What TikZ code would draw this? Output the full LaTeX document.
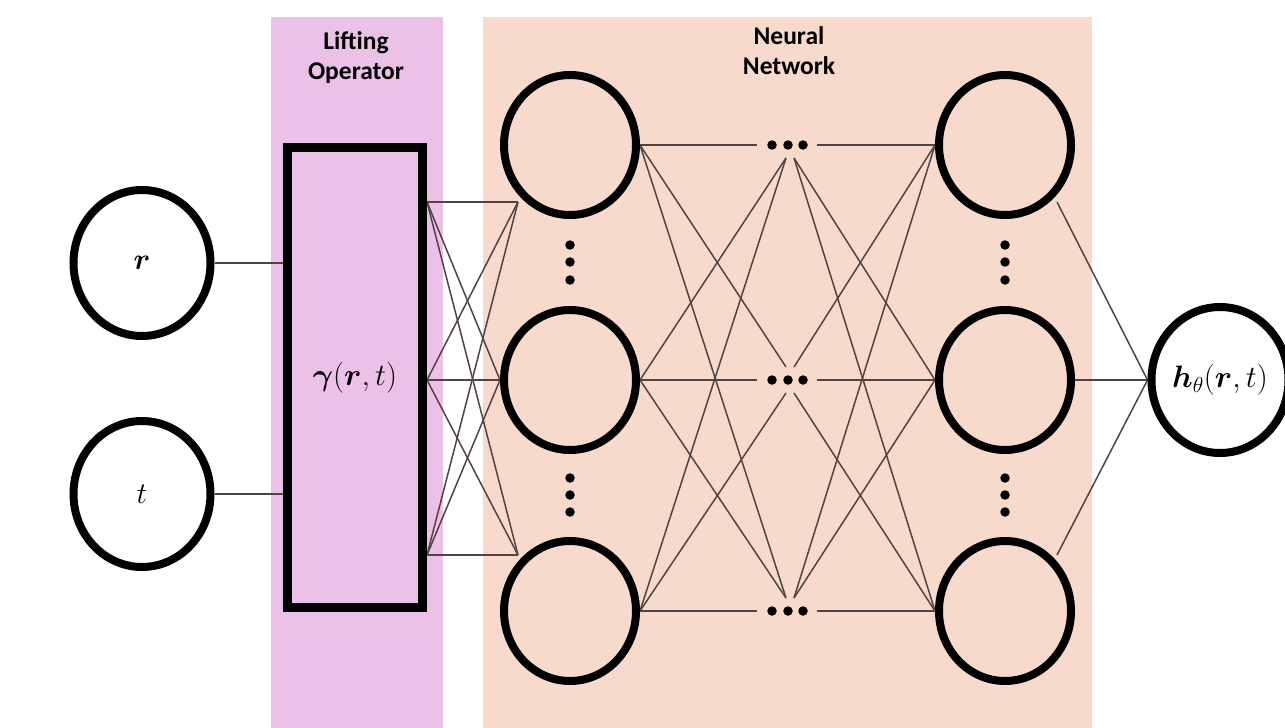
\RequirePackage{fix-cm}
\documentclass[tikz,border=0pt]{standalone}
\usepackage{fontspec}
\setsansfont{Carlito}
\usepackage{amsmath,bm}
\usetikzlibrary{shapes.geometric}
\definecolor{pinkband}{RGB}{236,193,232}
\definecolor{peachband}{RGB}{248,218,205}
\definecolor{edgecol}{RGB}{80,68,66}
\pgfdeclarelayer{bands}
\pgfdeclarelayer{edges}
\pgfsetlayers{bands,edges,main}
\tikzset{
  neuron/.style={ellipse, draw=black, line width=8pt, minimum width=132pt, minimum height=140pt, inner sep=0pt, font=\fontsize{30}{34}\selectfont},
  conn/.style={draw=edgecol, line width=1.5pt},
  dotc/.style={circle, fill=black, inner sep=0pt, minimum size=9.5pt},
  title/.style={font=\sffamily\bfseries\fontsize{25.5}{30}\selectfont, align=center, text=black},
}
\begin{document}
\begin{tikzpicture}[x=1pt, y=-1pt]
\useasboundingbox (0,0) rectangle (1285,728);
\begin{pgfonlayer}{bands}
  \fill[pinkband] (271,17) rectangle (443,728);
  \fill[peachband] (483,17) rectangle (1092,728);
\end{pgfonlayer}
\node[title] (lift) at (356,58) {Lifting\\Operator};
\node[title] (nn) at (789,51) {Neural\\Network};

% input nodes
\node[neuron, fill=white, minimum width=137pt, minimum height=146pt] (r) at (142,263) {$\bm{r}$};
\node[neuron, fill=white, minimum width=137pt, minimum height=146pt] (t) at (142,494) {$t$};

% lifting box
\node[draw=black, line width=9pt, fill=pinkband, minimum width=135pt, minimum height=460pt, inner sep=0pt, font=\fontsize{31}{34}\selectfont] (lift box) at (355,377.5) {$\bm{\gamma}(\bm{r},t)$};

% hidden layers
\foreach \i/\y in {1/145,2/380,3/611}{
  \node[neuron, fill=peachband] (L\i) at (570,\y) {};
  \node[neuron, fill=peachband] (R\i) at (1005,\y) {};
}
% output
\node[neuron, fill=white, minimum width=137pt, minimum height=146pt, font=\fontsize{31}{34}\selectfont] (out) at (1220,380) {$\bm{h}_{\theta}(\bm{r},t)$};

% vertical dots
\foreach \x/\n in {570/L,1005/R}{
  \foreach \y [count=\k] in {245,262,280,478,495,512}{
    \node[dotc] (vd\n\k) at (\x,\y) {};
  }
}
% horizontal dots
\foreach \y/\g in {145/1,380/2,611/3}{
  \node[dotc] (hd\g a) at (772,\y) {};
  \node[dotc] (hd\g b) at (788,\y) {};
  \node[dotc] (hd\g c) at (803,\y) {};
}

% connection coordinates
\coordinate (bo1) at (427,202);
\coordinate (bo2) at (427,380);
\coordinate (bo3) at (427,555);
\coordinate (li1) at (518,202);
\coordinate (li2) at (500,380);
\coordinate (li3) at (518,555);
\coordinate (ro1) at (1057,202);
\coordinate (ro2) at (1075,380);
\coordinate (ro3) at (1057,555);
\coordinate (bir) at (283,263);
\coordinate (bit) at (283,494);
\foreach \g/\y in {1/145,2/380,3/611}{
  \coordinate (gl\g) at (757,\y);
  \coordinate (gr\g) at (817,\y);
  \coordinate (gla\g) at (786,\y-13);
  \coordinate (glb\g) at (786,\y+13);
  \coordinate (gra\g) at (794,\y-13);
  \coordinate (grb\g) at (794,\y+13);
}

\begin{pgfonlayer}{edges}
  \draw[conn] (r.east) -- (bir);
  \draw[conn] (t.east) -- (bit);
  \foreach \a in {1,2,3}{
    \foreach \b in {1,2,3}{
      \draw[conn] (bo\a) -- (li\b);
    }
  }
  % left column to dot groups, dot groups to right column
  \foreach \a in {1,2,3}{
    \foreach \g in {1,2,3}{
      \ifnum\a=\g
        \draw[conn] (L\a.east) -- (gl\g);
        \draw[conn] (gr\g) -- (R\a.west);
      \else
        \ifnum\a<\g
          \draw[conn] (L\a.east) -- (gla\g);
          \draw[conn] (gra\g) -- (R\a.west);
        \else
          \draw[conn] (L\a.east) -- (glb\g);
          \draw[conn] (grb\g) -- (R\a.west);
        \fi
      \fi
    }
  }
  \foreach \a in {1,2,3}{
    \draw[conn] (ro\a) -- (out.west);
  }
\end{pgfonlayer}
\end{tikzpicture}
\end{document}
